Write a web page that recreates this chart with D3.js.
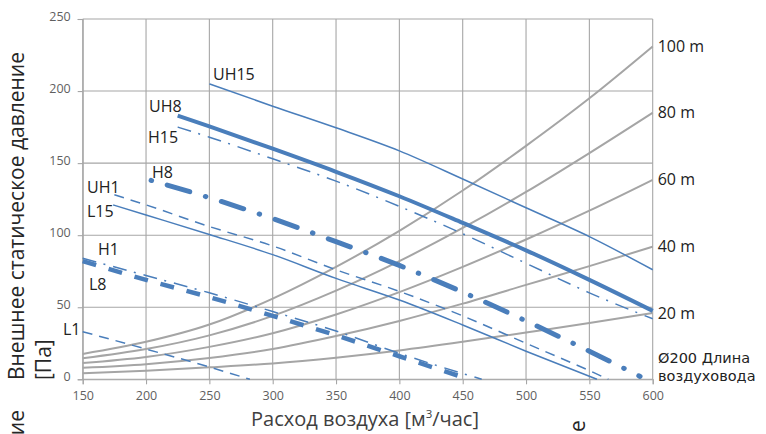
<!DOCTYPE html>
<html><head><meta charset="utf-8">
<script src="https://cdn.jsdelivr.net/npm/d3@7"></script>
<style>
html,body{margin:0;padding:0;background:#fff;}
svg{display:block;font-family:"Open Sans",sans-serif;}
</style></head>
<body>
<svg id="chart" width="766" height="434"></svg>
<script>
// ---- data ----
const xTicks = [150, 200, 250, 300, 350, 400, 450, 500, 550, 600];
const yTicks = [0, 50, 100, 150, 200, 250];

// unit curves (air flow m3/h, pressure Pa)
const UH15 = [[250,205],[300,189.5],[350,174.5],[400,158.5],[450,139],[500,119],[550,99],[600,76]];
const UH8  = [[225,183],[250,175.5],[300,160],[350,144],[400,127],[450,108.5],[500,89.5],[550,69],[600,47.5]];
const H15  = [[225,175],[250,168],[300,153],[350,137.5],[400,120],[450,101],[500,80.5],[550,60],[600,42]];
const H8   = [[204,138],[250,126],[300,111.5],[350,95.5],[400,79],[450,60.5],[500,40.5],[550,19.5],[590,2]];
const UH1  = [[175,128],[200,121],[250,106],[300,92.5],[350,76],[400,61],[450,44],[500,25],[550,6],[565,0]];
const L15  = [[174,121],[200,114],[250,100.5],[300,86.5],[350,70],[400,55],[450,37.7],[500,19.5],[556,0]];
const H1   = [[150,84],[200,72],[250,60],[300,47],[350,33.5],[400,18],[465,0]];
const L8   = [[150,82],[200,69],[250,57],[300,44],[350,30.5],[400,16],[455,0]];
const L1   = [[150,33],[200,21],[250,8.5],[282,0]];

// duct resistance curves (Ø200 duct length)
const ductX    = [150, 200, 250, 300, 350, 400, 450, 500, 550, 600];
const duct100m = [17.6, 26, 38, 56, 78, 103, 131, 162, 195, 231];
const duct80m  = [14.6, 21, 30.5, 44, 61.5, 82, 105, 130, 157, 185];
const duct60m  = [11.3, 15.5, 22.5, 32, 45, 60.5, 78, 97, 117, 138.4];
const duct40m  = [8, 10.5, 14.8, 21, 30, 40.5, 52.5, 65.5, 78.5, 92];
const duct20m  = [4.2, 6, 8.3, 11, 15, 20, 26, 32.5, 39, 46];
const ductNames = ["100 m", "80 m", "60 m", "40 m", "20 m"];

const seriesNames = ["UH15","UH8","H15","H8","UH1","L15","H1","L8","L1"];

// ---- layout / style ----
const svg = d3.select("#chart");
const L = 82.7, R = 652.7, T = 19, B = 379.3;
const x = d3.scaleLinear().domain([150, 600]).range([L, R]);
const y = d3.scaleLinear().domain([0, 250]).range([B, T]);
const gridCol = "#a6a6a6", blue = "#4a7ebb", txtCol = "#222";

// grid
const g = svg.append("g");
g.append("g").selectAll("line").data(xTicks).join("line")
  .attr("x1", d => x(d)).attr("x2", d => x(d)).attr("y1", T).attr("y2", B)
  .attr("stroke", gridCol).attr("stroke-width", 1.1);
g.append("g").selectAll("line").data(yTicks).join("line")
  .attr("x1", L).attr("x2", R).attr("y1", d => y(d)).attr("y2", d => y(d))
  .attr("stroke", gridCol).attr("stroke-width", 1.1);

// axes
const ax = svg.append("g").attr("transform", `translate(0,${B})`)
  .call(d3.axisBottom(x).tickValues(xTicks).tickSize(5).tickFormat(d3.format("d")));
const ay = svg.append("g").attr("transform", `translate(${L},0)`)
  .call(d3.axisLeft(y).tickValues(yTicks).tickSize(5).tickFormat(d3.format("d")));
[ax, ay].forEach(a => {
  a.select(".domain").attr("stroke", gridCol).attr("stroke-width", 1.1);
  a.selectAll(".tick line").attr("stroke", gridCol).attr("stroke-width", 1.1);
  a.selectAll(".tick text").attr("fill", "#5f5f5f")
    .style("font-family", "'Open Sans',sans-serif").style("font-size", "12.5px");
});
ax.selectAll(".tick text").attr("y", 20.5).attr("dy", 0);
ay.selectAll(".tick text").attr("x", -12).attr("dy", "0.32em").attr("transform", "translate(0,-3)");

// duct curves
const ductSets = [duct100m, duct80m, duct60m, duct40m, duct20m];
const dline = d3.line().x((d, i) => x(ductX[i])).y(d => y(d)).curve(d3.curveMonotoneX);
svg.append("g").selectAll("path").data(ductSets).join("path")
  .attr("d", d => dline(d)).attr("fill", "none")
  .attr("stroke", "#a5a5a5").attr("stroke-width", 2);
svg.append("g").selectAll("text").data(ductSets).join("text")
  .attr("x", R + 5).attr("y", d => y(d[d.length - 1])).attr("dy", "0.35em")
  .attr("fill", txtCol).style("font-size", "16px")
  .text((d, i) => ductNames[i]);

// unit curves
const styles = {
  UH15: {w: 1.5, dash: null},
  UH8:  {w: 4, dash: null},
  H15:  {w: 1.5, dash: "14,7.5,2,8"},
  H8:   {w: 5, dash: "0.5,16.3,23.5,16.3", cap: "round"},
  UH1:  {w: 1.5, dash: "10,7"},
  L15:  {w: 1.5, dash: null},
  H1:   {w: 1.5, dash: "14,7.5,2,8"},
  L8:   {w: 4.5, dash: "14,13"},
  L1:   {w: 1.5, dash: "10,7"}
};
const seriesData = {UH15, UH8, H15, H8, UH1, L15, H1, L8, L1};
const bline = d3.line().x(d => x(d[0])).y(d => y(d[1])).curve(d3.curveMonotoneX);
svg.append("g").selectAll("path").data(seriesNames).join("path")
  .attr("d", n => bline(seriesData[n])).attr("fill", "none")
  .attr("stroke", blue).attr("stroke-width", n => styles[n].w)
  .attr("stroke-dasharray", n => styles[n].dash)
  .attr("stroke-linecap", n => styles[n].cap || "butt");

// series labels (pixel placement)
const labelPos = {UH15:[213,80], UH8:[149,112], H15:[148,143], H8:[152,178], UH1:[87,193],
  L15:[87,217], H1:[98,255], L8:[89,290], L1:[63,335]};
svg.append("g").selectAll("text").data(seriesNames).join("text")
  .attr("x", n => labelPos[n][0]).attr("y", n => labelPos[n][1])
  .attr("fill", txtCol).style("font-size", "16px").text(n => n);

// duct note
svg.append("text").attr("x", 658).attr("y", 363).attr("fill", txtCol)
  .style("font-family", "'DejaVu Sans',sans-serif").style("font-size", "14.5px").text("Ø200 Длина");
svg.append("text").attr("x", 658).attr("y", 380.5).attr("fill", txtCol)
  .style("font-family", "'DejaVu Sans',sans-serif").style("font-size", "14.5px").text("воздуховода");

// axis titles
const xt = svg.append("text").attr("x", 365).attr("y", 426).attr("text-anchor", "middle")
  .attr("fill", "#404040").style("font-size", "20px");
xt.append("tspan").text("Расход воздуха [м");
xt.append("tspan").attr("dy", -8).style("font-size", "11.5px").text("3");
xt.append("tspan").attr("dy", 8).text("/час]");

svg.append("text").attr("transform", "translate(24,380) rotate(-90)")
  .attr("fill", "#262626").style("font-size", "21px")
  .attr("textLength", 328).attr("lengthAdjust", "spacing")
  .text("Внешнее статическое давление");
svg.append("text").attr("transform", "translate(51,380) rotate(-90)")
  .attr("fill", "#262626").style("font-size", "21px").text("[Па]");
// clipped fragments present in the original
svg.append("text").attr("transform", "translate(24,410) rotate(-90)").attr("text-anchor", "end")
  .attr("fill", "#262626").style("font-size", "21px").text("ие");
svg.append("text").attr("transform", "translate(585,426) rotate(-90)").attr("text-anchor", "middle")
  .attr("fill", "#262626").style("font-size", "21px").text("е");
</script>
</body></html>
